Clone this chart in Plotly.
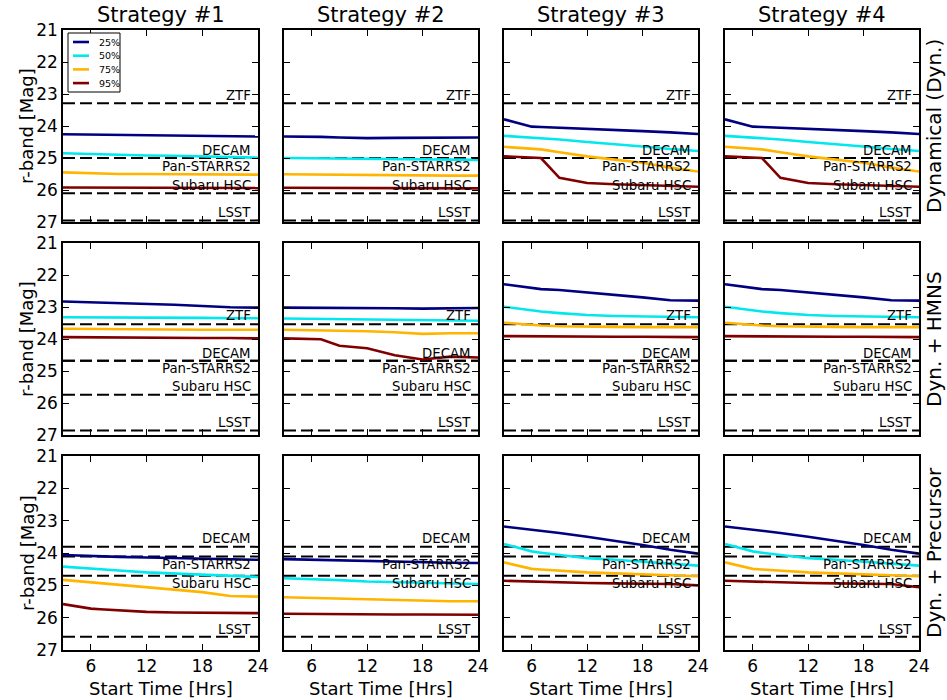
import plotly.graph_objects as go
from plotly.subplots import make_subplots

# start times (hours)
hours = [3, 6, 7, 9, 12, 15, 18, 21, 24]

pct_labels = ["25%", "50%", "75%", "95%"]
pct_colors = ["#000080", "#00E8EE", "#FFB400", "#800000"]

strategies = ["Strategy #1", "Strategy #2", "Strategy #3", "Strategy #4"]
models = ["Dynamical (Dyn.)", "Dyn. + HMNS", "Dyn. + Precursor"]

# r-band magnitudes, one list per percentile (25, 50, 75, 95)
dyn_s1 = [
    [24.26, 24.27, 24.27, 24.28, 24.29, 24.29, 24.30, 24.33, 24.33],
    [24.85, 24.88, 24.89, 24.90, 24.92, 24.93, 24.95, 24.98, 24.99],
    [25.45, 25.48, 25.49, 25.50, 25.50, 25.51, 25.52, 25.52, 25.52],
    [25.92, 25.92, 25.92, 25.92, 25.93, 25.93, 25.93, 25.94, 25.94],
]
dyn_s2 = [
    [24.33, 24.33, 24.34, 24.36, 24.38, 24.37, 24.36, 24.36, 24.36],
    [25.00, 25.01, 25.01, 25.02, 25.03, 25.03, 25.04, 25.05, 25.06],
    [25.51, 25.52, 25.52, 25.52, 25.53, 25.53, 25.54, 25.55, 25.55],
    [25.93, 25.93, 25.93, 25.93, 25.94, 25.94, 25.94, 25.95, 25.95],
]
dyn_s3 = [
    [23.79, 24.02, 24.03, 24.05, 24.08, 24.12, 24.16, 24.20, 24.25],
    [24.31, 24.36, 24.38, 24.42, 24.50, 24.56, 24.64, 24.72, 24.78],
    [24.65, 24.70, 24.73, 24.82, 24.95, 25.05, 25.15, 25.30, 25.42],
    [24.95, 24.97, 25.00, 25.62, 25.78, 25.82, 25.85, 25.88, 25.90],
]
dyn_s4 = [
    [23.79, 24.02, 24.03, 24.05, 24.08, 24.12, 24.16, 24.20, 24.25],
    [24.31, 24.36, 24.38, 24.42, 24.50, 24.56, 24.64, 24.72, 24.78],
    [24.65, 24.70, 24.73, 24.82, 24.95, 25.05, 25.15, 25.30, 25.42],
    [24.95, 24.97, 25.00, 25.62, 25.78, 25.82, 25.85, 25.88, 25.90],
]

hmns_s1 = [
    [22.83, 22.85, 22.86, 22.87, 22.90, 22.93, 22.97, 23.01, 23.02],
    [23.32, 23.32, 23.32, 23.33, 23.33, 23.34, 23.34, 23.35, 23.35],
    [23.68, 23.69, 23.69, 23.69, 23.70, 23.70, 23.71, 23.71, 23.71],
    [23.94, 23.95, 23.95, 23.95, 23.96, 23.96, 23.97, 23.97, 23.98],
]
hmns_s2 = [
    [23.02, 23.02, 23.02, 23.03, 23.03, 23.04, 23.05, 23.04, 23.03],
    [23.36, 23.37, 23.37, 23.38, 23.39, 23.40, 23.41, 23.42, 23.43],
    [23.71, 23.72, 23.73, 23.74, 23.76, 23.79, 23.84, 23.82, 23.82],
    [23.98, 24.00, 24.01, 24.21, 24.29, 24.51, 24.64, 24.55, 24.58],
]
hmns_s3 = [
    [22.29, 22.42, 22.44, 22.47, 22.54, 22.63, 22.70, 22.79, 22.80],
    [22.99, 23.12, 23.14, 23.19, 23.25, 23.28, 23.30, 23.31, 23.32],
    [23.49, 23.57, 23.58, 23.60, 23.62, 23.62, 23.63, 23.63, 23.63],
    [23.91, 23.92, 23.92, 23.92, 23.93, 23.93, 23.93, 23.94, 23.94],
]
hmns_s4 = [
    [22.29, 22.42, 22.44, 22.47, 22.54, 22.63, 22.70, 22.79, 22.80],
    [22.99, 23.12, 23.14, 23.19, 23.25, 23.28, 23.30, 23.31, 23.32],
    [23.49, 23.57, 23.58, 23.60, 23.62, 23.62, 23.63, 23.63, 23.63],
    [23.91, 23.92, 23.92, 23.92, 23.93, 23.93, 23.93, 23.94, 23.94],
]

prec_s1 = [
    [24.06, 24.10, 24.10, 24.12, 24.14, 24.16, 24.18, 24.20, 24.21],
    [24.42, 24.47, 24.49, 24.54, 24.60, 24.64, 24.68, 24.72, 24.74],
    [24.83, 24.91, 24.93, 24.98, 25.07, 25.14, 25.21, 25.33, 25.35],
    [25.58, 25.72, 25.74, 25.78, 25.82, 25.84, 25.85, 25.86, 25.86],
]
prec_s2 = [
    [24.19, 24.21, 24.22, 24.23, 24.25, 24.27, 24.29, 24.30, 24.31],
    [24.78, 24.80, 24.81, 24.84, 24.88, 24.90, 24.92, 24.95, 24.96],
    [25.37, 25.39, 25.40, 25.42, 25.44, 25.45, 25.47, 25.49, 25.49],
    [25.88, 25.89, 25.89, 25.89, 25.90, 25.90, 25.90, 25.91, 25.91],
]
prec_s3 = [
    [23.18, 23.28, 23.31, 23.38, 23.50, 23.62, 23.75, 23.90, 24.02],
    [23.72, 23.95, 23.99, 24.05, 24.16, 24.21, 24.26, 24.33, 24.39],
    [24.29, 24.49, 24.51, 24.55, 24.60, 24.63, 24.66, 24.70, 24.72],
    [24.86, 24.89, 24.90, 24.91, 24.93, 24.94, 24.95, 24.96, 25.00],
]
prec_s4 = [
    [23.18, 23.28, 23.31, 23.38, 23.50, 23.62, 23.75, 23.90, 24.02],
    [23.72, 23.95, 23.99, 24.05, 24.16, 24.21, 24.26, 24.33, 24.39],
    [24.29, 24.49, 24.51, 24.55, 24.60, 24.63, 24.66, 24.70, 24.72],
    [24.86, 24.89, 24.90, 24.91, 24.93, 24.94, 24.95, 24.96, 25.06],
]

# survey depth lines and where their labels sit
instruments = ["ZTF", "DECAM", "Pan-STARRS2", "Subaru HSC", "LSST"]
dyn_limits = [23.29, 25.0, 25.0, 26.1, 26.95]
dyn_label_y = [23.06, 24.77, 25.27, 25.87, 26.69]
hmns_limits = [23.54, 24.68, 24.68, 25.74, 26.86]
hmns_label_y = [23.27, 24.44, 24.92, 25.49, 26.61]
prec_limits = [None, 23.81, 24.11, 24.70, 26.59]
prec_label_y = [None, 23.56, 24.36, 24.95, 26.37]

panels = [
    [dyn_s1, dyn_s2, dyn_s3, dyn_s4],
    [hmns_s1, hmns_s2, hmns_s3, hmns_s4],
    [prec_s1, prec_s2, prec_s3, prec_s4],
]
row_limits = [dyn_limits, hmns_limits, prec_limits]
row_label_y = [dyn_label_y, hmns_label_y, prec_label_y]

W, H = 947, 700
col_px = [(63, 258), (284, 478), (504, 698), (725, 919)]
row_px = [(30, 222), (243, 435), (456, 650)]
FONT = "DejaVu Sans"


def fx(px):
    return px / W


def fy(py):
    return 1 - py / H


fig = make_subplots(rows=3, cols=4)

for r in range(3):
    for c in range(4):
        # dashed survey limits first so the curves sit on top
        for name, lim, ly in zip(instruments, row_limits[r], row_label_y[r]):
            if lim is None:
                continue
            fig.add_trace(go.Scatter(x=[hours[0], hours[-1]], y=[lim, lim], mode="lines",
                                     line=dict(color="black", width=2, dash="12px,5px"),
                                     showlegend=False, hoverinfo="skip"), row=r + 1, col=c + 1)
            fig.add_annotation(x=23.45, y=ly, text=name, showarrow=False, xanchor="right",
                               yanchor="middle", font=dict(family=FONT, size=13.3, color="black"),
                               row=r + 1, col=c + 1)
        for k in range(4):
            fig.add_trace(go.Scatter(x=hours, y=panels[r][c][k], mode="lines", name=pct_labels[k],
                                     line=dict(color=pct_colors[k], width=2.6),
                                     showlegend=False), row=r + 1, col=c + 1)

        i = r * 4 + c + 1
        x0, x1 = col_px[c]
        y0, y1 = row_px[r]
        axis_common = dict(showline=True, linecolor="black", linewidth=1.5, mirror="allticks",
                           ticks="inside", ticklen=6, tickwidth=1.2, tickcolor="black",
                           showgrid=False, zeroline=False, automargin=False,
                           tickfont=dict(family=FONT, size=17, color="black"))
        fig.update_layout({
            f"xaxis{i}": dict(domain=[fx(x0), fx(x1)], range=[3, 24], tickvals=[6, 12, 18, 24],
                              showticklabels=(r == 2), **axis_common),
            f"yaxis{i}": dict(domain=[fy(y1), fy(y0)], range=[27, 21],
                              tickvals=[21, 22, 23, 24, 25, 26, 27],
                              showticklabels=(c == 0), **axis_common),
        })

for c in range(4):
    xc = fx((col_px[c][0] + col_px[c][1]) / 2)
    fig.add_annotation(x=xc, y=fy(15), xref="paper", yref="paper", text=strategies[c],
                       xanchor="center", yanchor="middle", showarrow=False,
                       font=dict(family=FONT, size=21, color="black"))
    fig.add_annotation(x=xc, y=fy(688), xref="paper", yref="paper", text="Start Time [Hrs]",
                       xanchor="center", yanchor="middle", showarrow=False,
                       font=dict(family=FONT, size=18, color="black"))

for r in range(3):
    yc = fy((row_px[r][0] + row_px[r][1]) / 2)
    fig.add_annotation(x=fx(934), y=yc, xref="paper", yref="paper", text=models[r], textangle=-90,
                       xanchor="center", yanchor="middle", showarrow=False,
                       font=dict(family=FONT, size=20, color="black"))
    fig.add_annotation(x=fx(27), y=yc, xref="paper", yref="paper", text="r-band [Mag]", textangle=-90,
                       xanchor="center", yanchor="middle", showarrow=False,
                       font=dict(family=FONT, size=18, color="black"))

# compact legend box in the top-left panel
fig.add_shape(type="rect", xref="paper", yref="paper", x0=fx(68), x1=fx(120), y0=fy(92), y1=fy(33),
              line=dict(color="black", width=1), fillcolor="white", layer="above")
for k in range(4):
    ly = 42 + k * 13.7
    fig.add_shape(type="line", xref="paper", yref="paper", x0=fx(73), x1=fx(89), y0=fy(ly), y1=fy(ly),
                  line=dict(color=pct_colors[k], width=2.6), layer="above")
    fig.add_annotation(x=fx(97), y=fy(ly), xref="paper", yref="paper", text=pct_labels[k],
                       xanchor="left", yanchor="middle", showarrow=False,
                       font=dict(family=FONT, size=9.5, color="black"))

fig.update_layout(
    template="none",
    width=W, height=H,
    margin=dict(l=0, r=0, t=0, b=0, autoexpand=False),
    plot_bgcolor="white", paper_bgcolor="white",
    font=dict(family=FONT, color="black"),
    showlegend=False,
)

# drop the default 8px page margin so the figure sits at the window corner
fig.write_html("out.html", config={"displayModeBar": False},
               post_script="document.body.style.margin='0px';")
